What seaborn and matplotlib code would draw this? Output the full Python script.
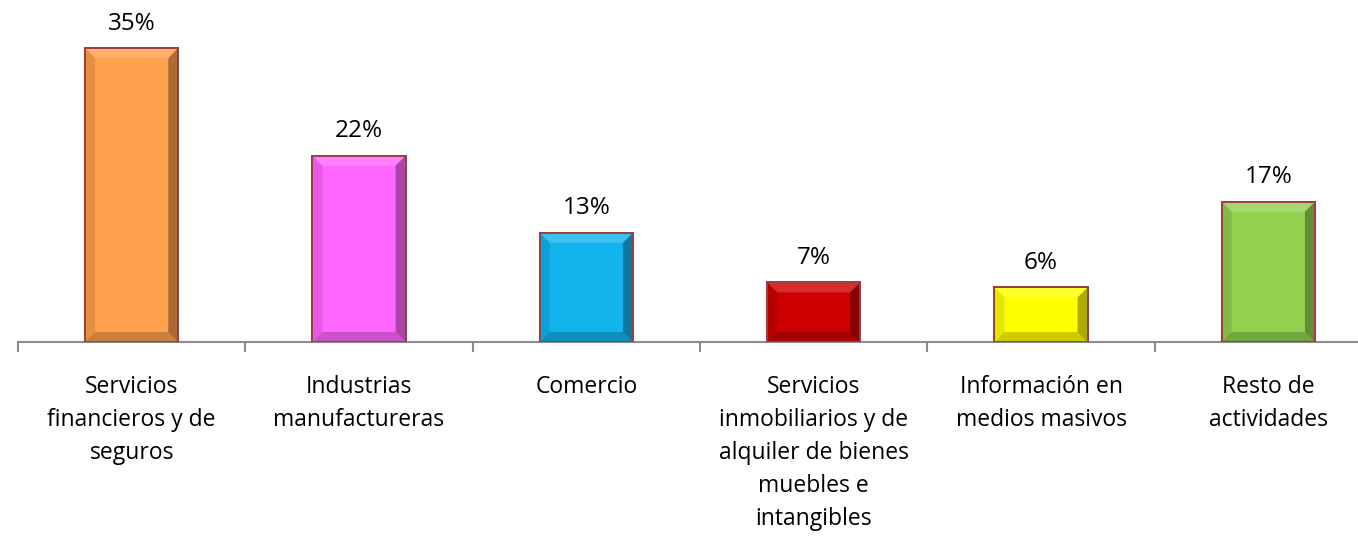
import matplotlib
matplotlib.use("Agg")
import matplotlib.pyplot as plt
import seaborn as sns
import pandas as pd
import numpy as np
from matplotlib.patches import Polygon
from matplotlib.ticker import FixedLocator

categories = ["Servicios\nfinancieros y de\nseguros", "Industrias\nmanufactureras", "Comercio",
              "Servicios\ninmobiliarios y de\nalquiler de bienes\nmuebles e\nintangibles",
              "Información en\nmedios masivos", "Resto de\nactividades"]
values = [35.0, 22.2, 13.0, 7.1, 6.5, 16.7]
labels = ["35%", "22%", "13%", "7%", "6%", "17%"]
colors = ["#FFA04D", "#FF66FF", "#12B4EE", "#CC0000", "#FFFF00", "#92D050"]

sns.set_theme(style="white")
plt.rcParams['font.family'] = ['Open Sans', 'DejaVu Sans']

fig = plt.figure(figsize=(13.58, 5.42), dpi=100)
ax = fig.add_axes([18/1358, (542-342)/542, 1364/1358, 340/542])

df = pd.DataFrame({"cat": categories, "val": values})
sns.barplot(data=df, x="cat", y="val", hue="cat", palette=colors, legend=False,
            width=0.41, ax=ax, saturation=1, edgecolor="#9B4040", linewidth=1.4, zorder=2)

ax.set_xlim(-0.5, 5.5)
ax.set_ylim(0, 40.5)
ax.set_xlabel("")
ax.set_ylabel("")
ax.set_yticks([])
for s in ["top", "right", "left"]:
    ax.spines[s].set_visible(False)
ax.spines["bottom"].set_color("#8C8C8C")
ax.spines["bottom"].set_linewidth(1.5)

ax.xaxis.set_minor_locator(FixedLocator(np.arange(-0.5, 6.0, 1.0)))
ax.tick_params(axis="x", which="major", length=0, pad=24, labelsize=16.5, colors="black")
ax.tick_params(axis="x", which="minor", length=7, width=1.5, color="#8C8C8C", bottom=True)
for t in ax.get_xticklabels():
    t.set_horizontalalignment("center")
    t.set_verticalalignment("top")
    t.set_linespacing(1.49)

# bevel effect
fig.canvas.draw()
inv = ax.transData.inverted()
def px_to_data(dx, dy):
    p0 = inv.transform((0, 0))
    p1 = inv.transform((dx, dy))
    return p1[0]-p0[0], p1[1]-p0[1]
bx, by = px_to_data(10, 10)
for p, c in zip(ax.patches, colors):
    x0, y0 = p.get_x(), p.get_y()
    w, h = p.get_width(), p.get_height()
    x1, y1 = x0 + w, y0 + h
    base = np.array(matplotlib.colors.to_rgb(c))
    light = np.clip(base + (1 - base) * 0.35, 0, 1)
    dark = base * 0.6
    darker = base * 0.35
    mid = base * 0.8
    polys = [
        ([(x0, y1), (x1, y1), (x1-bx, y1-by), (x0+bx, y1-by)], light),
        ([(x0, y0), (x1, y0), (x1-bx, y0+by), (x0+bx, y0+by)], dark),
        ([(x0, y0), (x0, y1), (x0+bx, y1-by), (x0+bx, y0+by)], mid),
        ([(x1, y0), (x1, y1), (x1-bx, y1-by), (x1-bx, y0+by)], darker),
    ]
    for pts, col in polys:
        ax.add_patch(Polygon(pts, closed=True, facecolor=col, edgecolor="none", alpha=0.5, zorder=3))
    ax.add_patch(matplotlib.patches.Rectangle((x0, y0), w, h, fill=False,
                 edgecolor="#9B4040", linewidth=1.4, zorder=4))

for i, (v, lab) in enumerate(zip(values, labels)):
    ax.annotate(lab, xy=(i, v), xytext=(0, 9), textcoords="offset points",
                ha="center", va="bottom", fontsize=17.5, color="black")

fig.savefig("out.png", dpi=100)
